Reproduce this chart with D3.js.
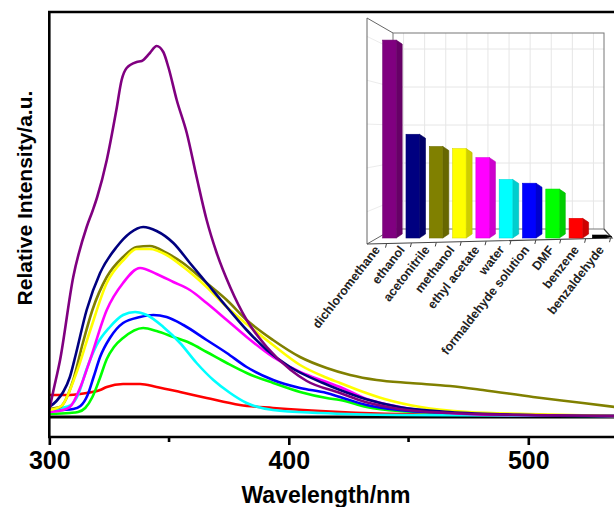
<!DOCTYPE html>
<html>
<head>
<meta charset="utf-8">
<script src="https://cdn.jsdelivr.net/npm/d3@7"></script>
<style>
  body { margin: 0; background: #fff; }
  svg { display: block; font-family: "Liberation Sans", Arial, sans-serif; }
</style>
</head>
<body>
<div id="chart"></div>
<script>
// emission spectra, [wavelength nm, intensity a.u.]
const dichloromethane = [[300,7],[301.5,24],[304.5,57],[310,140],[315.6,190],[318.2,207],[320,220],[324,257],[328,307],[330.2,337],[332.3,349],[336.5,355],[338.6,356],[342,364],[344.8,371],[347.6,365],[349.7,350],[353.2,317],[357.4,284],[361.5,240],[365.7,197],[369.9,164],[375.5,130],[382.4,97],[390.8,70],[400.8,47],[407.5,36],[421.4,24],[432,15],[446,8],[467,4],[500,2],[536,1]];
const ethanol = [[300,10],[303,16],[305.8,25],[308.6,40],[311,62],[315.6,107],[321.2,144],[328.1,170],[333.7,184],[339.2,190],[344.8,186],[351.8,174],[358.7,154],[365.7,134],[374.1,110],[382.4,87],[390.8,67],[400.5,50],[414.3,34],[421.4,27],[432,18],[446,10],[467,5],[500,2],[536,1]];
const acetonitrile = [[300,8],[304.5,10],[310,37],[314,74],[318,107],[324,140],[330.8,160],[336.5,170],[342,171],[349,164],[355.8,154],[365.7,134],[374.1,117],[382.4,97],[393.4,77],[404.7,60],[415.8,49],[425.6,42],[436.7,37],[450.6,34],[467.3,31],[481,27],[502,20],[522.8,14],[536,10]];
const methanol = [[300,7],[305,11],[311,42],[317,86],[324,134],[331,157],[336.5,168],[342,168],[349,162],[356,150],[365.7,130],[374.1,110],[382.4,93],[393.4,72],[404.7,52],[415,40],[421.4,34],[430,26],[440,18],[455,10],[475,5],[500,3],[536,1]];
const ethylAcetate = [[300,5],[304,6],[308.6,10],[313,30],[317,57],[324,107],[330.8,134],[337.9,149],[344.8,143],[351.8,135],[358.7,127],[365.7,114],[374.1,97],[382.4,80],[393.4,60],[404.7,45],[415.8,35],[421.4,30],[432.5,18],[446.4,10],[467.3,4],[488,2],[536,1]];
const water = [[300,7],[305,9],[309,12],[312,22],[315.6,48],[319.8,72],[325.3,90],[330.8,102],[335.8,105],[340.7,102],[347.6,90],[354.6,74],[361.5,54],[368.5,37],[375.5,24],[382.4,14],[393.4,7],[413,4],[446,2],[536,1]];
const formaldehyde = [[300,6],[305,7],[310,8],[313,11],[316,22],[318.5,40],[321.2,60],[325.3,79],[330.8,94],[337.9,100],[343.4,102],[349,100],[356,92],[365.7,77],[374.1,64],[382.4,50],[393.5,37],[404.7,29],[415.8,24],[421.4,20],[432.5,12],[446,7],[467,4],[500,2],[536,1]];
const dmf = [[300,3],[308.6,4],[312,5],[315,9],[318,20],[321,38],[324,58],[327,70],[330.8,79],[339.2,89],[344.8,86],[351.8,80],[358.7,74],[365.7,65],[374.1,54],[382.4,44],[393.5,34],[404.7,25],[415.8,19],[421.4,17],[432.5,10],[446,6],[467,4],[488,2],[536,1]];
const benzene = [[300,22],[308.6,22],[312.8,23],[315.6,24],[321.2,27],[324,30],[330.8,33],[337.9,33],[344.8,30],[354.6,25],[365.7,19],[379.6,12],[393.4,9],[421.4,5],[446,3],[488,2],[536,1]];
const benzaldehyde = [[300,0],[350,0],[400,0],[450,0],[500,0],[536,0]];

// inset bar chart (peak intensity)
const solvents = ['dichloromethane','ethanol','acetonitrile','methanol','ethyl acetate','water','formaldehyde solution','DMF','benzene','benzaldehyde'];
const peakValues = [372, 195, 172, 168, 151, 110, 103, 92, 37, 3];
const solventColors = ['#800080','#000080','#808000','#ffff00','#ff00ff','#00ffff','#0000ff','#00ff00','#ff0000','#000000'];

const xTicks = [300, 400, 500];
const xMinorTicks = [350, 450];

const width = 614, height = 507;

const svg = d3.select('#chart').append('svg')
  .attr('width', width)
  .attr('height', height);

const x = d3.scaleLinear().domain([300, 540]).range([49.3, 624.1]);
const y = d3.scaleLinear().domain([-20, 405]).range([437, 12]);

svg.append('defs').append('clipPath').attr('id', 'plotclip')
  .append('rect').attr('x', 49).attr('y', 12).attr('width', width - 49).attr('height', 425);

// series drawn bottom first
const series = [
  { name: 'benzaldehyde', values: benzaldehyde, color: '#000000' },
  { name: 'benzene', values: benzene, color: '#ff0000' },
  { name: 'DMF', values: dmf, color: '#00ff00' },
  { name: 'formaldehyde solution', values: formaldehyde, color: '#0000ff' },
  { name: 'water', values: water, color: '#00ffff' },
  { name: 'ethyl acetate', values: ethylAcetate, color: '#ff00ff' },
  { name: 'acetonitrile', values: acetonitrile, color: '#808000' },
  { name: 'methanol', values: methanol, color: '#ffff00' },
  { name: 'ethanol', values: ethanol, color: '#000080' },
  { name: 'dichloromethane', values: dichloromethane, color: '#800080' }
];

const line = d3.line()
  .curve(d3.curveMonotoneX)
  .x(d => x(d[0]))
  .y(d => y(d[1]));

svg.append('g').attr('clip-path', 'url(#plotclip)')
  .selectAll('path')
  .data(series)
  .join('path')
  .attr('fill', 'none')
  .attr('stroke', d => d.color)
  .attr('stroke-width', d => d.name === 'benzaldehyde' ? 3 : 2.6)
  .attr('stroke-linejoin', 'round')
  .attr('d', d => line(d.values));

// frame: left + top lines
svg.append('line')
  .attr('x1', x(300)).attr('x2', x(300))
  .attr('y1', y(405)).attr('y2', y(-20))
  .attr('stroke', '#000').attr('stroke-width', 2.6);
svg.append('line')
  .attr('x1', x(300) - 1.3).attr('x2', width)
  .attr('y1', y(405)).attr('y2', y(405))
  .attr('stroke', '#000').attr('stroke-width', 2.6);

// bottom axis
const xAxis = d3.axisBottom(x).tickValues(xTicks).tickSize(8).tickPadding(6).tickFormat(d3.format('d'));
const xAxisG = svg.append('g')
  .attr('transform', `translate(0,${y(-20)})`)
  .call(xAxis);
xAxisG.select('.domain').remove();
xAxisG.append('line')
  .attr('x1', x(300) - 1.3).attr('x2', width)
  .attr('stroke', '#000').attr('stroke-width', 2.6);
xAxisG.selectAll('.tick line').attr('stroke', '#000').attr('stroke-width', 2.6);
xAxisG.selectAll('.tick text')
  .attr('fill', '#000')
  .attr('font-size', 25)
  .attr('font-weight', 'bold')
  .attr('font-family', '"Liberation Sans", Arial, sans-serif');
xAxisG.selectAll('.minor')
  .data(xMinorTicks)
  .join('line')
  .attr('class', 'minor')
  .attr('x1', d => x(d)).attr('x2', d => x(d))
  .attr('y1', 0).attr('y2', 5)
  .attr('stroke', '#000').attr('stroke-width', 2.6);

svg.append('text')
  .attr('x', 326)
  .attr('y', 503)
  .attr('text-anchor', 'middle')
  .attr('font-size', 23)
  .attr('font-weight', 'bold')
  .text('Wavelength/nm');

svg.append('text')
  .attr('transform', 'translate(32,198) rotate(-90)')
  .attr('text-anchor', 'middle')
  .attr('font-size', 21)
  .attr('font-weight', 'bold')
  .text('Relative Intensity/a.u.');

// ---- inset: pseudo 3D bar chart ----
const inset = svg.append('g').attr('class', 'inset');
const back = { x0: 393, x1: 604, y0: 33, y1: 229 };
const front = { x: 367, top: 18, bottom: 244 };

const yb = d3.scaleLinear().domain([0, 400]).range([238, 238 - 400 * 0.532]);
const xb = d3.scaleBand().domain(solvents).range([375.7, 612.9]).paddingInner(0.42).paddingOuter(0.3);
const xl = d3.scalePoint().domain(solvents).range([380.5, 604.5]);

const gridYs = [49, 87, 125, 163, 201];
const gridXs = d3.range(10).map(i => back.x0 + (back.x1 - back.x0) * (i + 0.5) / 10);

// back wall grid
inset.selectAll('.gy').data(gridYs).join('line')
  .attr('x1', back.x0).attr('x2', back.x1)
  .attr('y1', d => d).attr('y2', d => d)
  .attr('stroke', '#e6e6e6').attr('stroke-width', 1);
inset.selectAll('.gx').data(gridXs).join('line')
  .attr('x1', d => d).attr('x2', d => d)
  .attr('y1', back.y0).attr('y2', back.y1)
  .attr('stroke', '#e6e6e6').attr('stroke-width', 1);
// left wall grid
const wallMap = v => front.top + (v - back.y0) * (front.bottom - front.top) / (back.y1 - back.y0);
inset.selectAll('.gw').data(gridYs).join('line')
  .attr('x1', front.x).attr('x2', back.x0)
  .attr('y1', d => wallMap(d)).attr('y2', d => d)
  .attr('stroke', '#ececec').attr('stroke-width', 1);

inset.append('rect')
  .attr('x', back.x0).attr('y', back.y0)
  .attr('width', back.x1 - back.x0).attr('height', back.y1 - back.y0)
  .attr('fill', 'none').attr('stroke', '#777').attr('stroke-width', 1);
inset.append('path')
  .attr('d', `M${back.x0},${back.y0}L${front.x},${front.top}L${front.x},${front.bottom}L${back.x0},${back.y1}`)
  .attr('fill', 'none').attr('stroke', '#666').attr('stroke-width', 1);
inset.append('path')
  .attr('d', `M${front.x},${front.bottom}L612,238L${back.x1},${back.y1}`)
  .attr('fill', 'none').attr('stroke', '#444').attr('stroke-width', 1.2);

// floor ticks
inset.selectAll('.ft').data(solvents).join('line')
  .attr('x1', d => xl(d) + 6).attr('x2', d => xl(d) + 5)
  .attr('y1', d => 244 - (xl(d) - 367) * 6 / 245)
  .attr('y2', d => 248 - (xl(d) - 367) * 6 / 245)
  .attr('stroke', '#444').attr('stroke-width', 1);

const bars = inset.selectAll('.bar')
  .data(solvents.map((s, i) => ({ name: s, value: peakValues[i], color: solventColors[i] })))
  .join('g').attr('class', 'bar');

const depthX = 6;
bars.append('path')
  .attr('d', d => {
    const x1 = xb(d.name) + xb.bandwidth();
    const t = Math.min(yb(d.value), yb(0) - 3), b = yb(0);
    const dy = Math.min(4, (b - t) / 2);
    return `M${x1},${t}L${x1 + depthX},${t + dy}L${x1 + depthX},${b - dy}L${x1},${b}Z`;
  })
  .attr('fill', d => d3.color(d.color).darker(0.6))
  .attr('stroke', d => d3.color(d.color).darker(0.9))
  .attr('stroke-width', 0.6);
bars.append('rect')
  .attr('x', d => xb(d.name))
  .attr('y', d => Math.min(yb(d.value), yb(0) - 3))
  .attr('width', xb.bandwidth())
  .attr('height', d => Math.max(3, yb(0) - yb(d.value)))
  .attr('fill', d => d.color)
  .attr('stroke', d => d3.color(d.color).darker(0.4))
  .attr('stroke-width', 0.6);

inset.selectAll('.lbl').data(solvents).join('text')
  .attr('transform', d => `translate(${xl(d)},250) rotate(-52)`)
  .attr('text-anchor', 'end')
  .attr('font-size', 12.5)
  .attr('font-weight', 'bold')
  .attr('fill', '#222')
  .text(d => d);
</script>
</body>
</html>
